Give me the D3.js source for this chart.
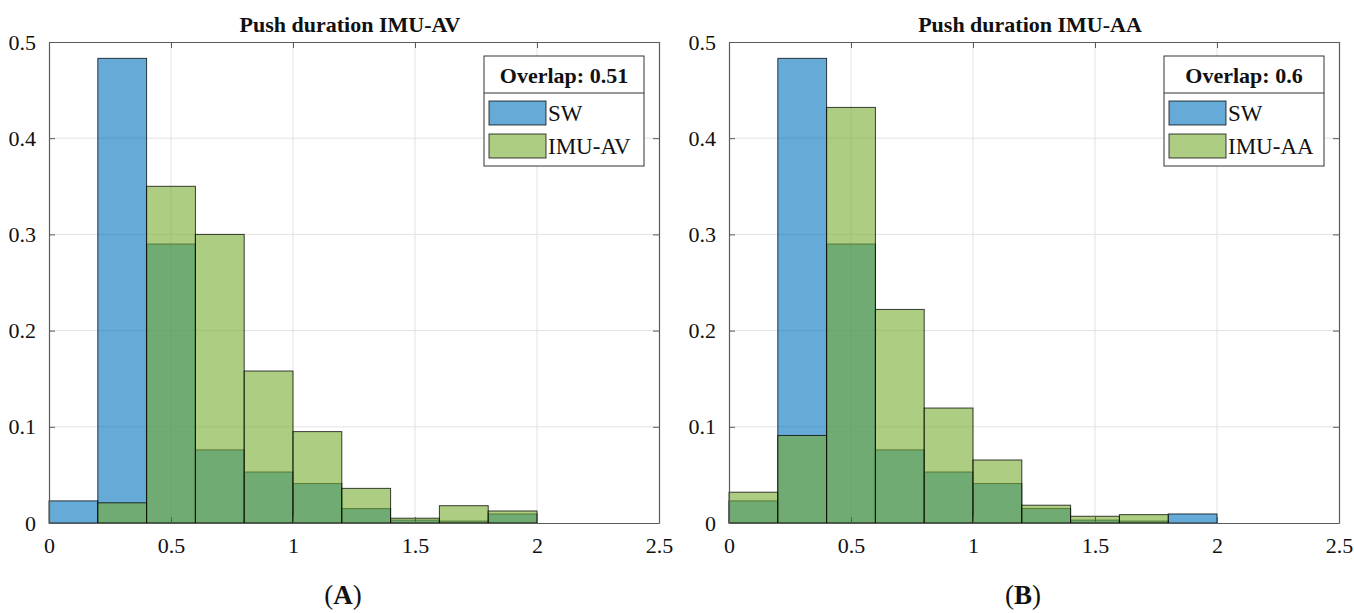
<!DOCTYPE html>
<html>
<head>
<meta charset="utf-8">
<script src="https://cdn.jsdelivr.net/npm/d3@7"></script>
<style>
  body { margin: 0; background: #fff; }
  svg { display: block; }
  text { font-family: "Liberation Serif", "DejaVu Serif", serif; fill: #111; }
</style>
</head>
<body>
<svg id="chart" width="1354" height="613"></svg>
<script>
const binEdges = [0, 0.2, 0.4, 0.6, 0.8, 1.0, 1.2, 1.4, 1.6, 1.8, 2.0];
const xTicks = [0, 0.5, 1, 1.5, 2, 2.5];
const yTicks = [0, 0.1, 0.2, 0.3, 0.4, 0.5];

const swValues    = [0.023, 0.483, 0.290, 0.076, 0.053, 0.041, 0.015, 0.003, 0.002, 0.0094];
const imuAvValues = [0, 0.021, 0.350, 0.300, 0.158, 0.095, 0.036, 0.005, 0.018, 0.0125];
const imuAaValues = [0.032, 0.091, 0.432, 0.222, 0.1195, 0.0655, 0.0185, 0.007, 0.0087, 0];

const panels = [
  { title: "Push duration IMU-AV", label: "A", overlap: "Overlap: 0.51", name: "IMU-AV", values: imuAvValues, left: 49 },
  { title: "Push duration IMU-AA", label: "B", overlap: "Overlap: 0.6", name: "IMU-AA", values: imuAaValues, left: 729 }
];

const kPlotWidth = 610;
const kTop = 42;
const kBottom = 523;
const blue = "rgb(0,114,189)";
const green = "rgb(119,172,48)";
const serif = "'Liberation Serif', 'DejaVu Serif', serif";

const svg = d3.select("#chart");

function drawPanel(p)
{
  const x = d3.scaleLinear().domain([0, 2.5]).range([p.left, p.left + kPlotWidth]);
  const y = d3.scaleLinear().domain([0, 0.5]).range([kBottom, kTop]);
  const g = svg.append("g");

  // grid
  g.selectAll(".gx").data(xTicks.slice(1, -1)).enter().append("line")
    .attr("x1", d => x(d)).attr("x2", d => x(d))
    .attr("y1", kTop).attr("y2", kBottom)
    .attr("stroke", "#e3e3e3").attr("stroke-width", 1);
  g.selectAll(".gy").data(yTicks.slice(1, -1)).enter().append("line")
    .attr("x1", p.left).attr("x2", p.left + kPlotWidth)
    .attr("y1", d => y(d)).attr("y2", d => y(d))
    .attr("stroke", "#e3e3e3").attr("stroke-width", 1);

  const bins = (vals) => vals.map((v, i) => ({ x0: binEdges[i], x1: binEdges[i + 1], v: v })).filter(d => d.v > 0);

  [[swValues, blue], [p.values, green]].forEach(([vals, col]) => {
    g.selectAll(null).data(bins(vals)).enter().append("rect")
      .attr("x", d => x(d.x0))
      .attr("y", d => y(d.v))
      .attr("width", d => x(d.x1) - x(d.x0))
      .attr("height", d => y(0) - y(d.v))
      .attr("fill", col)
      .attr("fill-opacity", 0.6)
      .attr("stroke", "#000")
      .attr("stroke-opacity", 0.75)
      .attr("stroke-width", 1);
  });

  // axes with inward ticks, box
  const axB = d3.axisBottom(x).tickValues(xTicks).tickSizeInner(-6).tickSizeOuter(0).tickPadding(14).tickFormat(d3.format("~g"));
  const axT = d3.axisTop(x).tickValues(xTicks).tickSizeInner(-6).tickSizeOuter(0).tickFormat("");
  const axL = d3.axisLeft(y).tickValues(yTicks).tickSizeInner(-6).tickSizeOuter(0).tickPadding(13).tickFormat(d3.format("~g"));
  const axR = d3.axisRight(y).tickValues(yTicks).tickSizeInner(-6).tickSizeOuter(0).tickFormat("");

  const styleAxis = sel => {
    sel.attr("font-family", null);
    sel.select(".domain").attr("stroke", "#5a5a5a").attr("stroke-width", 1.2);
    sel.selectAll(".tick line").attr("stroke", "#5a5a5a");
    sel.selectAll("text").attr("font-size", 22).attr("fill", "#111").style("font-family", serif);
  };
  g.append("g").attr("transform", `translate(0,${kBottom})`).call(axB).call(styleAxis);
  g.append("g").attr("transform", `translate(0,${kTop})`).call(axT).call(styleAxis);
  g.append("g").attr("transform", `translate(${p.left},0)`).call(axL).call(styleAxis);
  g.append("g").attr("transform", `translate(${p.left + kPlotWidth},0)`).call(axR).call(styleAxis);

  // title
  g.append("text")
    .attr("x", p.left + kPlotWidth / 2 - 4).attr("y", 32)
    .attr("text-anchor", "middle")
    .attr("font-size", 22).attr("font-weight", "bold")
    .text(p.title);

  // legend
  const lx = p.left + kPlotWidth - 175;
  const lw = 160;
  const lg = g.append("g");
  lg.append("rect").attr("x", lx).attr("y", 56).attr("width", lw).attr("height", 110)
    .attr("fill", "#fff").attr("stroke", "#333").attr("stroke-width", 1);
  lg.append("line").attr("x1", lx).attr("x2", lx + lw).attr("y1", 93).attr("y2", 93)
    .attr("stroke", "#333").attr("stroke-width", 1);
  lg.append("text").attr("x", lx + lw / 2).attr("y", 83)
    .attr("text-anchor", "middle").attr("font-size", 22).attr("font-weight", "bold")
    .text(p.overlap);
  [["SW", blue, 101], [p.name, green, 134]].forEach(([name, col, yy]) => {
    lg.append("rect").attr("x", lx + 5).attr("y", yy).attr("width", 57).attr("height", 24)
      .attr("fill", col).attr("fill-opacity", 0.6)
      .attr("stroke", "#000").attr("stroke-opacity", 0.75);
    lg.append("text").attr("x", lx + 64).attr("y", yy + 20)
      .attr("font-size", 23).text(name);
  });

  // panel label
  const lab = g.append("text")
    .attr("x", p.left + kPlotWidth / 2 - 11).attr("y", 604)
    .attr("text-anchor", "middle").attr("font-size", 27);
  lab.append("tspan").text("(");
  lab.append("tspan").attr("font-weight", "bold").text(p.label);
  lab.append("tspan").text(")");
}

panels.forEach(drawPanel);
</script>
</body>
</html>
